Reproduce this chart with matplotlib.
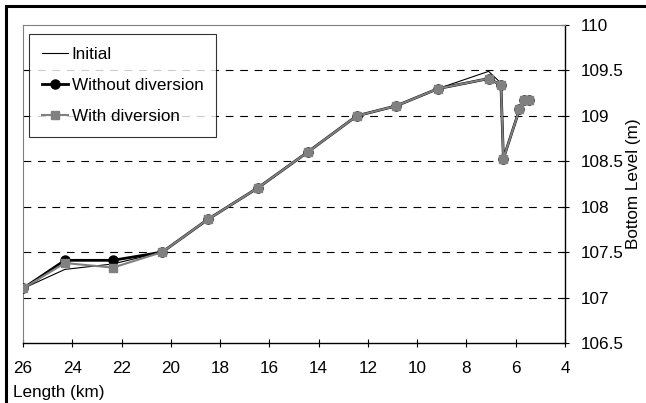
import numpy as np
import matplotlib
matplotlib.use('Agg')
import matplotlib.pyplot as plt
from matplotlib.patches import Rectangle

plt.rcParams['font.family'] = ['Liberation Sans', 'DejaVu Sans']

# data
km = [26.0, 24.3, 22.35, 20.35, 18.5, 16.45, 14.45, 12.45, 10.85, 9.15, 7.1, 6.6, 6.5, 5.85, 5.65, 5.45]
initial = [107.1, 107.31, 107.37, 107.5, 107.86, 108.21, 108.6, 109.0, 109.11, 109.3, 109.49, 109.36, 108.53, 109.07, 109.17, 109.18]
without_div = [107.1, 107.41, 107.41, 107.5, 107.86, 108.21, 108.6, 109.0, 109.11, 109.3, 109.41, 109.34, 108.53, 109.07, 109.17, 109.18]
with_div = [107.1, 107.38, 107.33, 107.5, 107.86, 108.21, 108.6, 109.0, 109.11, 109.3, 109.41, 109.34, 108.53, 109.07, 109.17, 109.18]

x_ticks = [26, 24, 22, 20, 18, 16, 14, 12, 10, 8, 6, 4]
y_ticks = [106.5, 107, 107.5, 108, 108.5, 109, 109.5, 110]

fs = 12.3

fig = plt.figure(figsize=(6.46, 4.03), dpi=100)
ax = fig.add_axes([23/646, 1 - 343/403, (565 - 23)/646, (343 - 25)/403])

# outer frame (only top and left visible in the original)
fig.patches.append(Rectangle((6/646, -0.05), 1.2, (403 - 6)/403 + 0.05, transform=fig.transFigure,
                             fill=False, edgecolor='black', linewidth=2.2))

gray = '#808080'
ax.plot(km, initial, color='black', lw=0.8, label='Initial', zorder=4)
ax.plot(km, without_div, color='black', lw=2, marker='o', ms=6.5, label='Without diversion', zorder=3)
ax.plot(km, with_div, color=gray, lw=1.5, marker='s', ms=6, mec=gray, mfc=gray,
        label='With diversion', zorder=5)

ax.set_xlim(26, 4)
ax.set_ylim(106.5, 110)
ax.set_xticks(x_ticks)
ax.set_xticklabels([str(t) for t in x_ticks])
ax.set_yticks(y_ticks)
ax.set_yticklabels(['106.5', '107', '107.5', '108', '108.5', '109', '109.5', '110'])

for y in y_ticks[1:-1]:
    ax.axhline(y, color='black', lw=0.8, ls=(0, (7, 6)), zorder=1)

ax.yaxis.tick_right()
ax.yaxis.set_label_position('right')
ax.tick_params(axis='y', direction='inout', length=6, width=0.8, labelsize=fs, pad=8)
ax.tick_params(axis='x', direction='inout', length=6, width=0.8, labelsize=fs, pad=10)

ax.spines['top'].set_color(gray)
ax.spines['top'].set_linewidth(0.8)
ax.spines['left'].set_color(gray)
ax.spines['left'].set_linewidth(0.8)
ax.spines['right'].set_color('black')
ax.spines['right'].set_linewidth(1)
ax.spines['bottom'].set_color('black')
ax.spines['bottom'].set_linewidth(1)

ax.set_ylabel('Bottom Level (m)', fontsize=fs, labelpad=2)
fig.text(13/646, 1 - 393/403, 'Length (km)', fontsize=fs, ha='left', va='center')

leg = ax.legend(loc='upper left', bbox_to_anchor=(6/542, 1 - 9/318), fontsize=fs,
                frameon=True, fancybox=False, edgecolor='black', handlelength=1.55,
                handletextpad=0.2, borderpad=0.75, labelspacing=0.95, borderaxespad=0)
leg.get_frame().set_linewidth(0.8)

fig.savefig('out.png', dpi=100)
